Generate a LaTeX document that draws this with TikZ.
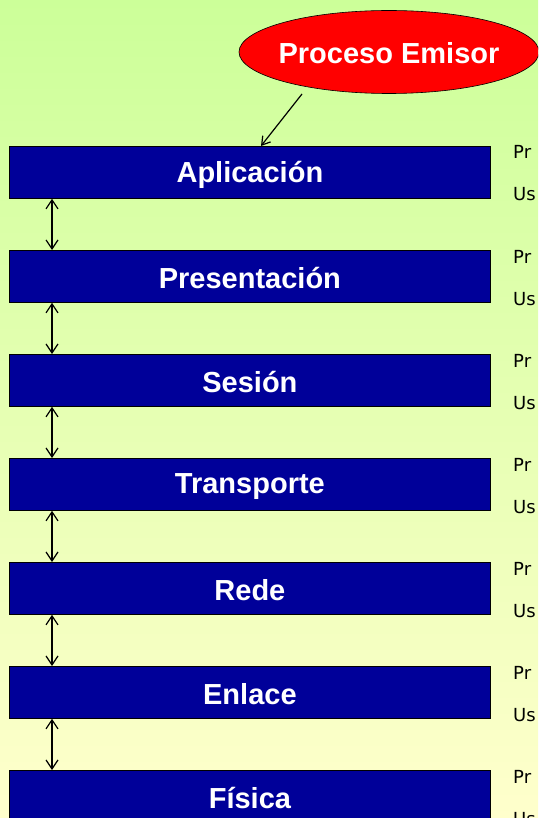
\documentclass[tikz,border=0pt]{standalone}
\usepackage{fontspec}
\setmainfont{Liberation Sans}
\newfontfamily\notefont{DejaVu Sans}
\usetikzlibrary{arrows.meta,shapes.geometric}
\definecolor{bgtop}{RGB}{204,255,153}
\definecolor{bgbot}{RGB}{255,255,204}
\definecolor{navy}{RGB}{0,0,153}
\definecolor{ellred}{RGB}{255,0,0}
\tikzset{
  layer/.style={rectangle, fill=navy, draw=black, line width=0.8pt, minimum width=481pt, minimum height=52pt, anchor=north west, inner sep=0pt, text=white},
  bigtext/.style={anchor=center, inner sep=0pt, text=white, font=\bfseries\fontsize{29}{32}\selectfont},
  note/.style={anchor=base west, inner sep=0pt, font=\notefont\fontsize{18}{20}\selectfont},
  dbl/.style={line width=1.2pt, {Straight Barb[length=9pt,width=12pt]}-{Straight Barb[length=9pt,width=12pt]}},
  proc/.style={ellipse, fill=ellred, draw=black, line width=0.6pt, minimum width=300pt, minimum height=83pt, inner sep=0pt},
}
\begin{document}
\begin{tikzpicture}[x=1pt,y=-1pt]
\useasboundingbox (0,0) rectangle (538,818);
\clip (0,0) rectangle (538,818);
\shade[top color=bgtop, bottom color=bgbot] (0,0) rectangle (538,818);
\node[proc] (emisor) at (389,52) {};
\node[bigtext] (emisortxt) at ([yshift=-1pt]emisor.center) {Proceso Emisor};
\foreach \i/\t [count=\k from 0] in {1/Aplicación,2/Presentación,3/Sesión,4/Transporte,5/Rede,6/Enlace,7/Física} {
  \node[layer] (b\i) at (9,146+104*\k) {};
  \node[bigtext] (t\i) at ([yshift=-2pt]b\i.center) {\t};
  \node[note] (p\i) at ([xshift=504pt,yshift=-13pt]b\i.north west) {Pr};
  \node[note] (u\i) at ([xshift=504pt,yshift=-55pt]b\i.north west) {Us};
}
\coordinate (estart) at (302,94);
\draw[line width=1.2pt, -{Straight Barb[length=8pt,width=10pt]}] (estart) -- ([xshift=252pt]b1.north west);
\foreach \i/\j in {1/2,2/3,3/4,4/5,5/6,6/7} {
  \draw[dbl] ([xshift=43pt]b\i.south west) -- ([xshift=43pt]b\j.north west);
}
\end{tikzpicture}
\end{document}
